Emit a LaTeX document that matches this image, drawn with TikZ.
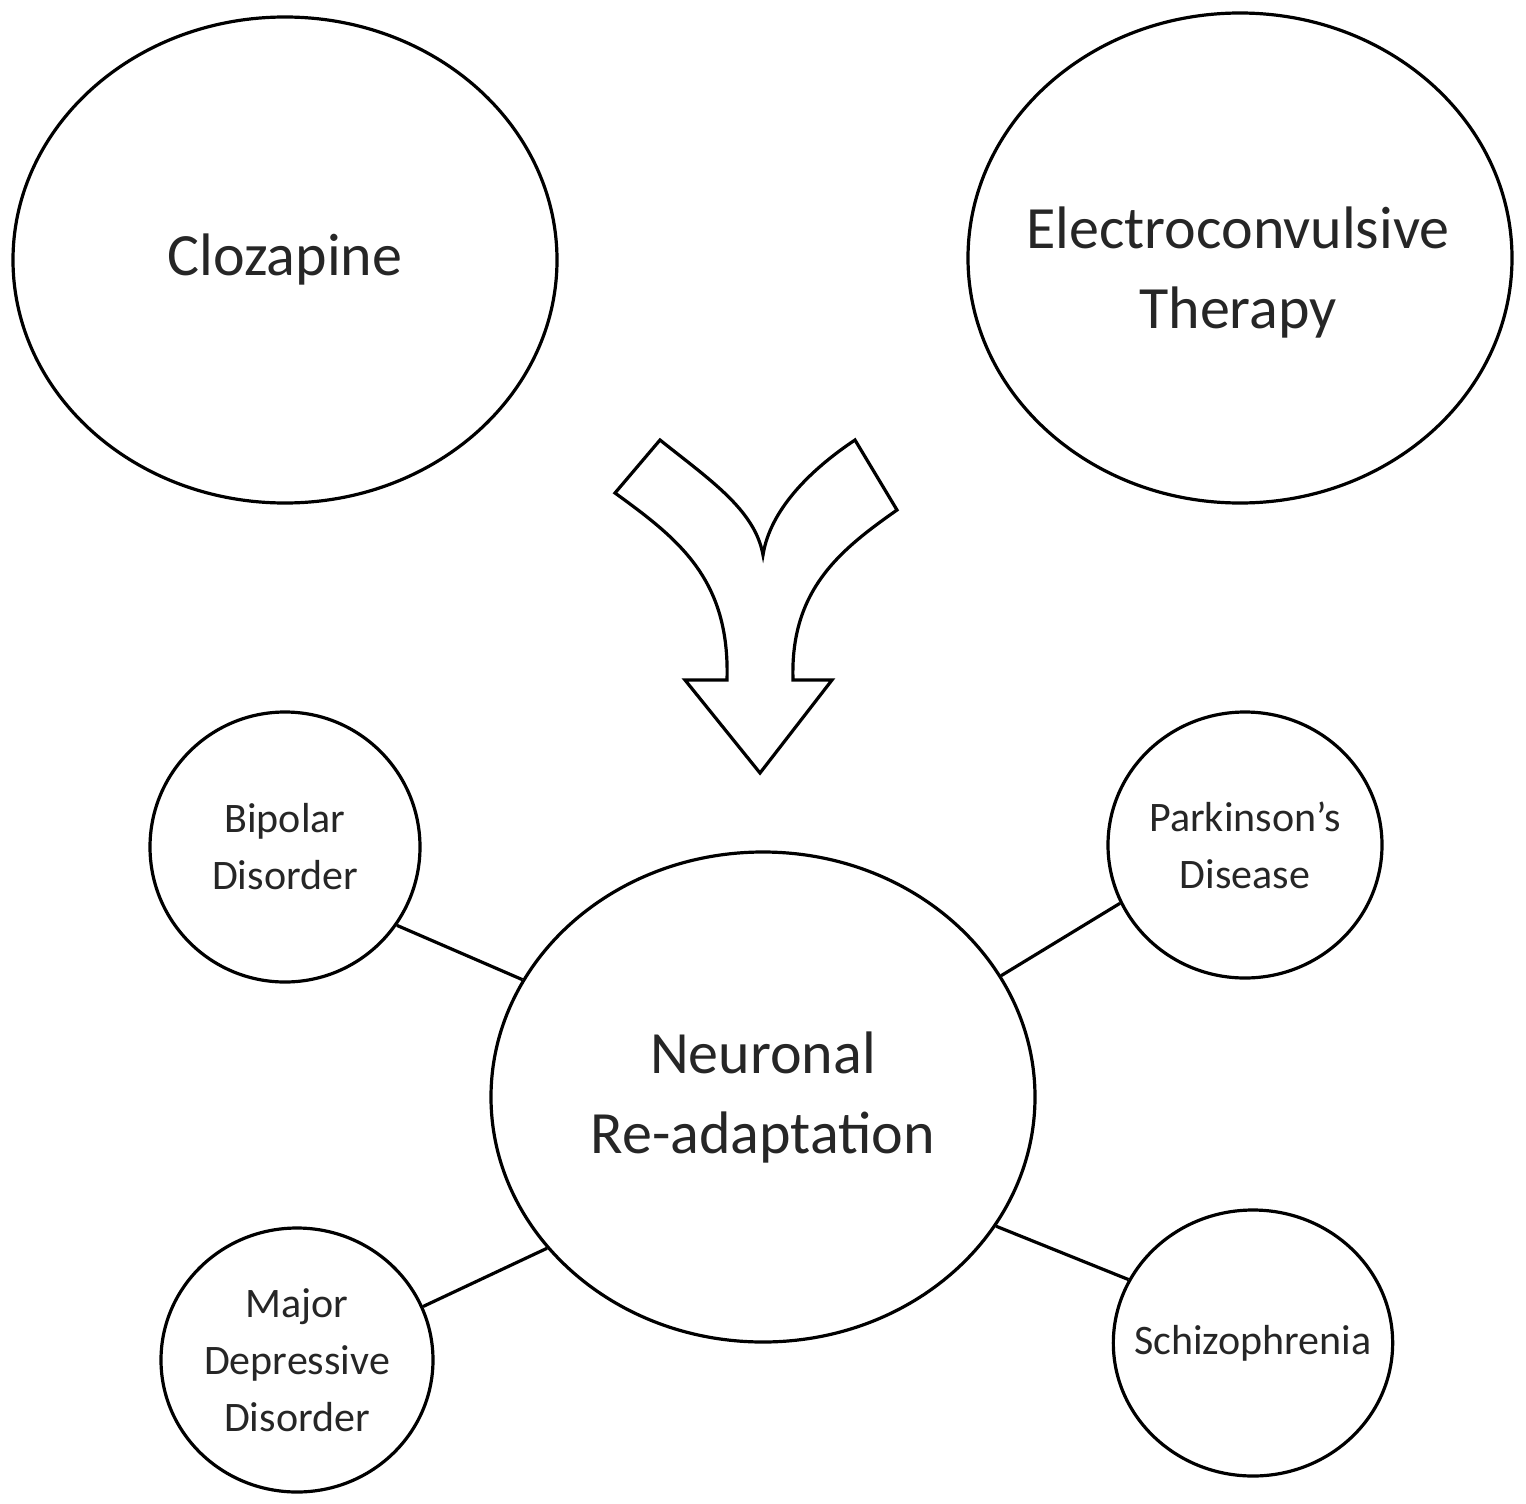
\documentclass[tikz,border=0pt]{standalone}
\usepackage{fontspec}
\setmainfont{Carlito}
\usetikzlibrary{shapes.geometric}
\begin{document}
\begin{tikzpicture}[x=1pt,y=-1pt,line width=3.2pt,
 big/.style={draw,ellipse,align=center,font=\fontsize{60}{80}\selectfont,text=black!85},
 small/.style={draw,ellipse,align=center,font=\fontsize{42}{57}\selectfont,text=black!85}]
\useasboundingbox (0,0) rectangle (1526,1504);
\node[big,minimum width=544,minimum height=486] (cloz) at (285,260) {Clozapine};
\node[big,minimum width=544,minimum height=490] (ect) at (1240,258) {};
\node[font=\fontsize{60}{80}\selectfont,text=black!85,align=center] (ectt) at (1238,273) {Electroconvulsive\\Therapy};
\node[big,minimum width=544,minimum height=490] (neu) at (763,1097) {Neuronal\\Re-adaptation};
\node[small,minimum width=270,minimum height=270,inner sep=0] (bip) at (285,847) {Bipolar\\Disorder};
\node[small,minimum width=274,minimum height=266,inner sep=0] (park) at (1245,845) {Parkinson’s\\Disease};
\node[small,minimum width=272,minimum height=264,inner sep=0] (mdd) at (297,1360) {Major\\Depressive\\Disorder};
\node[small,minimum width=272,minimum height=266,inner sep=-20pt] (sch) at (1253,1343) {Schizophrenia};
\draw (bip.-35) -- (neu.154);
\draw (park.205) -- (neu.27);
\draw (mdd.23) -- (neu.215);
\draw (sch.153) -- (neu.-29);
\draw[line join=miter] (727,680) .. controls (730,580) and (680,540) .. (615,493) -- (660,440)
 .. controls (710,480) and (755,510) .. (763,555)
 .. controls (770,510) and (810,470) .. (855,440) -- (897,510)
 .. controls (840,550) and (790,590) .. (793,680) -- (832,680) -- (760,773) -- (685,680) -- cycle;
\end{tikzpicture}
\end{document}
